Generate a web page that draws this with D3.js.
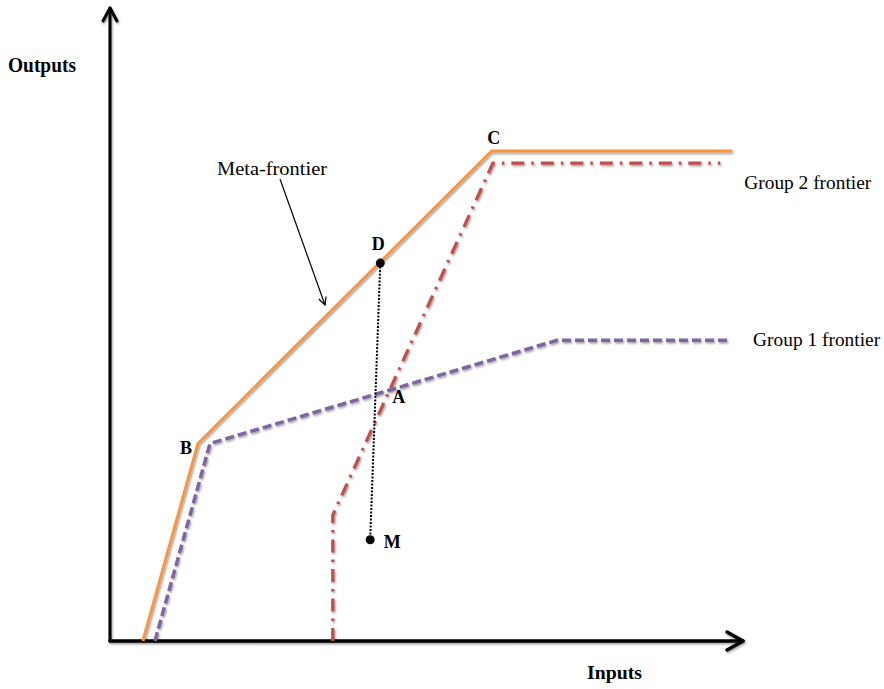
<!DOCTYPE html>
<html><head><meta charset="utf-8">
<script src="https://cdn.jsdelivr.net/npm/d3@7"></script>
<style>body{margin:0;background:#fff}svg{display:block}text{font-family:"Liberation Serif","Times New Roman",serif;fill:#000}</style>
</head><body><svg id="c" width="884" height="689"></svg>
<script>
// Data (abstract units, 0-100 on each axis)
const metaFrontier = [[5.2,0],[13.9,31.2],[60.3,77.4],[98.3,77.4]];
const group1Frontier = [[7.1,0],[15.8,31.2],[70.6,47.5],[97.9,47.5]];
const group2Frontier = [[35.2,0],[35.2,19.9],[60.5,75.5],[96.4,75.5]];
const pointD = [42.7,59.7];
const pointM = [41.1,16.0];
const pointLabels = [
  {t:"C", x:60.3, y:77.4, dx:2, dy:-7},
  {t:"D", x:42.7, y:59.7, dx:-2, dy:-13},
  {t:"B", x:13.9, y:31.2, dx:-12, dy:10},
  {t:"A", x:45.6, y:37.8, dx:0, dy:1},
  {t:"M", x:41.1, y:16.0, dx:22, dy:8}
];
const seriesLabels = [
  {t:"Group 2 frontier", x:100.2, y:71.4, w:127},
  {t:"Group 1 frontier", x:101.6, y:46.6, w:127}
];

const svg = d3.select("#c");
const x = d3.scaleLinear().domain([0,100]).range([110,743]);
const y = d3.scaleLinear().domain([0,100]).range([641,8]);
const line = d3.line().x(d=>x(d[0])).y(d=>y(d[1]));

const defs = svg.append("defs");
const f = defs.append("filter").attr("id","sh").attr("x","-10%").attr("y","-10%").attr("width","130%").attr("height","130%");
f.append("feDropShadow").attr("dx",1).attr("dy",1.5).attr("stdDeviation",0.8).attr("flood-color","#000").attr("flood-opacity",0.4);

// axes
const ax = svg.append("g").attr("filter","url(#sh)").attr("stroke","#000").attr("fill","none").attr("stroke-linecap","round").attr("stroke-linejoin","round");
ax.append("path").attr("d",`M${x(0)},${y(0)}V${y(100)}`).attr("stroke-width",3);
ax.append("path").attr("d",`M${x(0)-7},${y(100)+13}L${x(0)},${y(100)}L${x(0)+7},${y(100)+13}`).attr("stroke-width",3);
ax.append("path").attr("d",`M${x(0)},${y(0)}H${x(100)}`).attr("stroke-width",3.5);
ax.append("path").attr("d",`M${x(100)-16},${y(0)-9}L${x(100)},${y(0)}L${x(100)-16},${y(0)+9}`).attr("stroke-width",3.5);

// frontiers
svg.append("path").datum(group2Frontier).attr("d",line).attr("fill","none")
  .attr("stroke","#C0504D").attr("stroke-width",3.3).attr("stroke-dasharray","13,7,2.5,7").attr("filter","url(#sh)");
svg.append("path").datum(group1Frontier).attr("d",line).attr("fill","none")
  .attr("stroke","#8064A2").attr("stroke-width",3.5).attr("stroke-dasharray","9,4").attr("filter","url(#sh)");
svg.append("path").datum(metaFrontier).attr("d",line).attr("fill","none")
  .attr("stroke","#F79646").attr("stroke-width",3).attr("filter","url(#sh)");

// D-M dotted line
svg.append("path").datum([pointD,pointM]).attr("d",line).attr("fill","none")
  .attr("stroke","#000").attr("stroke-width",2).attr("stroke-dasharray","2,1.5");
svg.selectAll("circle.pt").data([pointD,pointM]).join("circle")
  .attr("cx",d=>x(d[0])).attr("cy",d=>y(d[1])).attr("r",4.5).attr("fill","#000");

// point labels
svg.selectAll("text.pl").data(pointLabels).join("text")
  .attr("x",d=>x(d.x)+d.dx).attr("y",d=>y(d.y)+d.dy).attr("text-anchor","middle")
  .attr("font-weight","bold").attr("font-size",18).text(d=>d.t);

// series labels
svg.selectAll("text.sl").data(seriesLabels).join("text")
  .attr("x",d=>x(d.x)).attr("y",d=>y(d.y)).attr("font-size",18)
  .attr("textLength",d=>d.w).attr("lengthAdjust","spacingAndGlyphs").text(d=>d.t);

// Meta-frontier annotation
svg.append("text").attr("x",217).attr("y",175).attr("font-size",18)
  .attr("textLength",110).attr("lengthAdjust","spacingAndGlyphs").text("Meta-frontier");
defs.append("marker").attr("id","ah").attr("viewBox","0 0 10 10").attr("refX",9).attr("refY",5)
  .attr("markerWidth",8).attr("markerHeight",8).attr("orient","auto")
  .append("path").attr("d","M1,1L9,5L1,9").attr("fill","none").attr("stroke","#000").attr("stroke-width",1.3);
svg.append("line").attr("x1",280).attr("y1",179).attr("x2",325).attr("y2",305)
  .attr("stroke","#000").attr("stroke-width",1.2).attr("marker-end","url(#ah)");

// axis titles
svg.append("text").attr("x",8).attr("y",72).attr("font-size",20).attr("font-weight","bold")
  .attr("textLength",68).attr("lengthAdjust","spacingAndGlyphs").text("Outputs");
svg.append("text").attr("x",587).attr("y",679).attr("font-size",19).attr("font-weight","bold")
  .attr("textLength",55).attr("lengthAdjust","spacingAndGlyphs").text("Inputs");
</script></body></html>
